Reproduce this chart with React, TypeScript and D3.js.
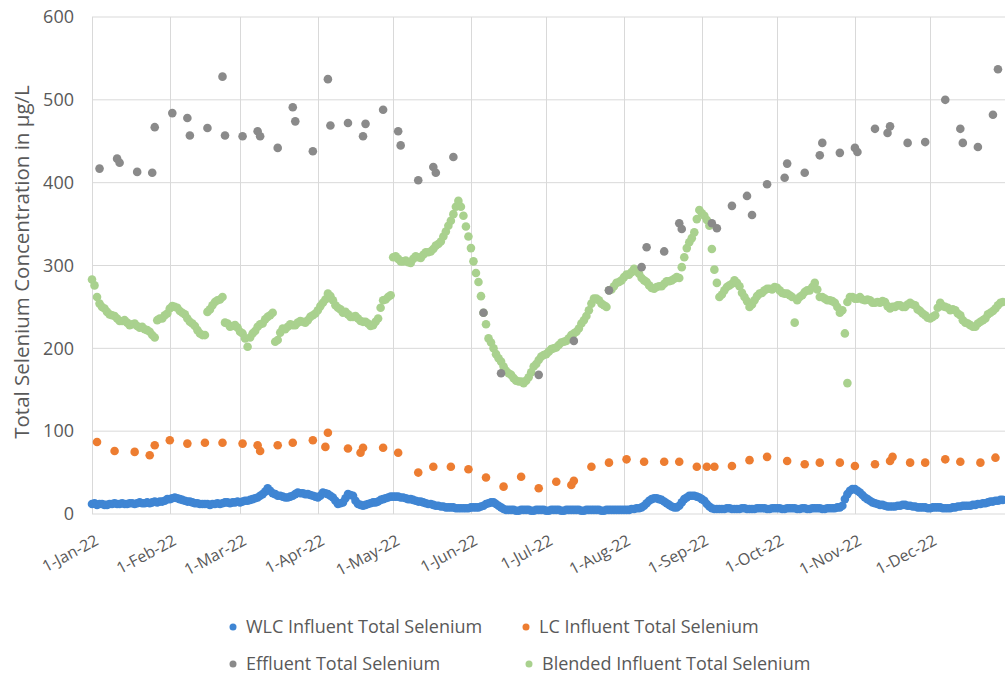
import React from "react";
import * as d3 from "d3";

// ---- DATA ----
const START = "2022-01-01";
// WLC Influent Total Selenium, daily readings from 1-Jan-22 (µg/L)
const wlcValues = [
  12, 13, 11, 12, 12, 11, 11, 12, 12, 13,
  12, 12, 13, 12, 12, 13, 13, 12, 13, 14,
  13, 13, 14, 13, 14, 15, 14, 15, 15, 16,
  18, 18, 19, 20, 19, 18, 17, 16, 15, 15,
  14, 13, 13, 12, 12, 12, 12, 11, 12, 12,
  13, 12, 13, 14, 14, 13, 14, 14, 15, 14,
  15, 16, 16, 17, 18, 19, 20, 22, 24, 27,
  31, 28, 25, 24, 22, 22, 21, 20, 20, 21,
  22, 24, 26, 25, 25, 24, 24, 23, 22, 21,
  20, 22, 26, 25, 24, 22, 20, 16, 12, 13,
  14, 19, 24, 23, 22, 16, 12, 11, 10, 11,
  12, 13, 14, 14, 15, 17, 18, 19, 20, 21,
  21, 21, 21, 20, 20, 19, 18, 18, 17, 16,
  15, 15, 14, 13, 12, 12, 11, 10, 10, 9,
  9, 8, 8, 8, 8, 7, 7, 7, 7, 7,
  7, 8, 8, 8, 8, 9, 10, 12, 13, 14,
  14, 12, 10, 8, 6, 5, 5, 5, 5, 4,
  4, 5, 5, 5, 5, 4, 4, 5, 5, 5,
  5, 4, 4, 5, 5, 5, 5, 4, 4, 5,
  5, 5, 5, 5, 5, 4, 4, 5, 5, 5,
  5, 5, 5, 4, 4, 5, 5, 5, 5, 5,
  5, 5, 5, 5, 5, 6, 6, 7, 7, 8,
  10, 13, 16, 18, 19, 19, 18, 17, 15, 13,
  11, 9, 8, 8, 10, 14, 18, 20, 22, 22,
  22, 21, 20, 18, 16, 12, 9, 7, 6, 6,
  6, 6, 6, 7, 7, 6, 6, 6, 6, 7,
  7, 6, 6, 6, 6, 7, 7, 7, 7, 6,
  6, 7, 7, 7, 7, 6, 6, 7, 7, 7,
  7, 6, 6, 7, 7, 6, 6, 7, 7, 7,
  7, 6, 6, 7, 7, 7, 7, 8, 8, 10,
  18, 24, 28, 30, 30, 28, 26, 23, 20, 18,
  16, 14, 13, 12, 11, 11, 10, 9, 9, 9,
  9, 10, 10, 11, 11, 10, 10, 9, 9, 8,
  8, 8, 8, 7, 7, 8, 8, 8, 8, 7,
  7, 7, 7, 8, 8, 9, 9, 10, 10, 10,
  10, 11, 11, 12, 12, 13, 13, 14, 15, 15,
  16, 16, 17, 17,
];
// Blended Influent Total Selenium, daily readings from 1-Jan-22
const blendedValues = [
  283, 276, 262, 254, 250, 248, 244, 241, 240, 239,
  236, 233, 233, 234, 231, 228, 229, 230, 227, 225,
  226, 223, 222, 220, 216, 213, 234, 236, 236, 240,
  242, 248, 251, 250, 249, 245, 243, 241, 236, 232,
  230, 227, 222, 218, 216, 216, 244, 247, 252, 256,
  258, 259, 262, 231, 230, 226, 227, 228, 225, 220,
  218, 212, 202, 213, 218, 221, 226, 229, 230, 235,
  238, 240, 243, 208, 210, 219, 224, 223, 226, 229,
  228, 228, 231, 233, 232, 231, 234, 238, 240, 242,
  246, 251, 255, 259, 266, 263, 258, 252, 249, 247,
  243, 244, 241, 238, 238, 239, 236, 233, 232, 232,
  230, 227, 228, 232, 236, 249, 258, 259, 262, 264,
  310, 311, 308, 305, 305, 306, 304, 303, 308, 311,
  310, 309, 313, 316, 316, 317, 320, 324, 326, 329,
  335, 341, 348, 354, 362, 371, 378, 371, 360, 347,
  335, 321, 305, 291, 280, 263, 243, 229, 212, 207,
  200, 193, 188, 184, 178, 173, 170, 168, 164, 161,
  160, 160, 158, 161, 165, 171, 178, 181, 186, 190,
  192, 193, 196, 199, 200, 201, 204, 207, 208, 209,
  212, 216, 218, 220, 224, 230, 234, 239, 246, 254,
  260, 260, 258, 254, 252, 250, 270, 271, 275, 279,
  280, 282, 286, 289, 289, 292, 296, 294, 290, 285,
  282, 280, 276, 273, 272, 274, 275, 275, 278, 281,
  281, 282, 284, 286, 285, 298, 310, 321, 328, 333,
  340, 356, 367, 363, 360, 355, 348, 320, 295, 279,
  262, 265, 270, 274, 276, 278, 282, 279, 275, 267,
  262, 257, 250, 253, 258, 263, 266, 267, 270, 272,
  272, 271, 274, 273, 270, 267, 266, 266, 264, 262,
  231, 258, 262, 264, 268, 270, 270, 274, 279, 271,
  262, 262, 260, 258, 258, 257, 255, 250, 243, 246,
  218, 256, 262, 262, 260, 260, 262, 259, 258, 259,
  258, 255, 255, 256, 255, 257, 256, 251, 248, 250,
  250, 252, 252, 250, 250, 253, 255, 253, 252, 247,
  245, 242, 240, 237, 236, 238, 240, 249, 255, 251,
  250, 249, 246, 247, 246, 242, 240, 234, 231, 230,
  228, 226, 226, 230, 232, 234, 236, 241, 243, 245,
  248, 252, 255, 256,
];
const blendedExtraDays = [301];
const blendedExtraValues = [158];

// LC Influent Total Selenium (day of year, value)
const lcDays = [
  2, 9, 17, 23, 25, 31, 38, 45, 52, 60, 66, 67, 74, 80, 88, 94, 93, 102, 108, 107,
  116, 122, 130, 136, 143, 150, 157, 164, 171, 178, 185, 191, 192, 199, 206, 213, 220, 228, 234, 241,
  245, 248, 255, 262, 269, 277, 284, 290, 298, 304, 312, 318, 319, 326, 332, 340, 346, 354, 360,
];
const lcValues = [
  87, 76, 75, 71, 83, 89, 85, 86, 86, 85, 83, 76, 83, 86, 89, 98, 81, 79, 80, 74,
  80, 74, 50, 57, 57, 54, 44, 33, 45, 31, 39, 35, 40, 57, 62, 66, 63, 63, 63, 57,
  57, 57, 58, 65, 69, 64, 60, 62, 62, 58, 60, 64, 69, 62, 62, 66, 63, 62, 68,
];

// Effluent Total Selenium (day of year, value)
const effDays = [
  3, 10, 11, 18, 24, 25, 32, 38, 39, 46, 52, 53, 60, 66, 67, 74, 80, 81, 88, 94,
  95, 102, 108, 109, 116, 122, 123, 130, 136, 137, 144, 156, 163, 178, 192, 206, 219, 221, 228, 234,
  235, 247, 249, 255, 261, 263, 269, 276, 277, 284, 290, 291, 298, 304, 305, 312, 318, 317, 325, 332,
  340, 346, 347, 353, 359, 361,
];
const effValues = [
  417, 429, 424, 413, 412, 467, 484, 478, 457, 466, 528, 457, 456, 462, 456, 442, 491, 474, 438, 525,
  469, 472, 456, 471, 488, 462, 445, 403, 419, 412, 431, 243, 170, 168, 209, 270, 298, 322, 317, 351,
  344, 351, 345, 372, 384, 361, 398, 406, 423, 412, 433, 448, 436, 442, 437, 465, 468, 460, 448, 449,
  500, 465, 448, 443, 482, 537,
];

const yTicks = [0, 100, 200, 300, 400, 500, 600];
const monthTicks = ["2022-01-01", "2022-02-01", "2022-03-01", "2022-04-01", "2022-05-01", "2022-06-01",
  "2022-07-01", "2022-08-01", "2022-09-01", "2022-10-01", "2022-11-01", "2022-12-01"];

const SERIES = [
  { name: "WLC Influent Total Selenium", color: "#3F85D3" },
  { name: "LC Influent Total Selenium", color: "#ED7D31" },
  { name: "Effluent Total Selenium", color: "#8A8A8A" },
  { name: "Blended Influent Total Selenium", color: "#A9D18E" },
];

const FONT = "'Open Sans', 'Liberation Sans', sans-serif";
const TXT = "#595959";

export default function App() {
  const W = 1005, H = 679;
  const start = new Date(START + "T00:00:00Z");
  const dayDate = (d: number) => d3.utcDay.offset(start, d);
  const x = d3.scaleUtc().domain([start, new Date("2023-01-01T00:00:00Z")]).range([92, 1008]);
  const y = d3.scaleLinear().domain([0, 600]).range([514, 17]);
  const fmt = d3.utcFormat("%-d-%b-%y");
  const r = 4.3;

  const wlc = wlcValues.map((v, i) => ({ d: dayDate(i), v }));
  const blended = blendedValues.map((v, i) => ({ d: dayDate(i), v }))
    .concat(blendedExtraDays.map((dd, i) => ({ d: dayDate(dd), v: blendedExtraValues[i] })));
  const lc = lcDays.map((dd, i) => ({ d: dayDate(dd), v: lcValues[i] }));
  const eff = effDays.map((dd, i) => ({ d: dayDate(dd), v: effValues[i] }));

  const dots = (data: { d: Date; v: number }[], color: string, key: string) =>
    data.map((p, i) => (
      <circle key={key + i} cx={x(p.d)} cy={y(p.v)} r={r} fill={color} />
    ));

  const legend = [
    { s: SERIES[0], lx: 233, ly: 627 },
    { s: SERIES[1], lx: 526, ly: 627 },
    { s: SERIES[2], lx: 233, ly: 664 },
    { s: SERIES[3], lx: 529, ly: 664 },
  ];

  return (
    <div style={{ position: "absolute", left: 0, top: 0 }}>
      <svg width={W} height={H} style={{ display: "block", background: "#fff" }} fontFamily={FONT}>
        {/* gridlines */}
        {yTicks.map((t) => (
          <line key={"gy" + t} x1={92} x2={1005} y1={y(t)} y2={y(t)} stroke="#D9D9D9" strokeWidth={1} />
        ))}
        {monthTicks.map((m) => {
          const xx = Math.round(x(new Date(m + "T00:00:00Z"))) + 0.5;
          return <line key={"gx" + m} x1={xx} x2={xx} y1={y(600)} y2={y(0)} stroke="#D9D9D9" strokeWidth={1} />;
        })}
        {/* y tick labels */}
        {yTicks.map((t) => (
          <text key={"ty" + t} x={74} y={y(t)} dy="0.35em" textAnchor="end" fontSize={18} fill={TXT}>{t}</text>
        ))}
        {/* x tick labels */}
        {monthTicks.map((m) => {
          const dt = new Date(m + "T00:00:00Z");
          const xx = x(dt);
          return (
            <text key={"tx" + m} transform={`translate(${xx + 5},${539}) rotate(-28)`} textAnchor="end"
              dy="0.35em" fontSize={16} fill={TXT}>{fmt(dt)}</text>
          );
        })}
        {/* y axis title */}
        <text transform="translate(22,262) rotate(-90)" textAnchor="middle" fontSize={20.5} fill={TXT} dy="0.35em">
          Total Selenium Concentration in µg/L
        </text>
        {/* series */}
        <g>{dots(wlc, SERIES[0].color, "w")}</g>
        <g>{dots(lc, SERIES[1].color, "l")}</g>
        <g>{dots(blended, SERIES[3].color, "b")}</g>
        <g>{dots(eff, SERIES[2].color, "e")}</g>
        {/* legend */}
        {legend.map((L) => (
          <g key={L.s.name}>
            <circle cx={L.lx} cy={L.ly} r={3.5} fill={L.s.color} />
            <text x={L.lx + 13} y={L.ly} dy="0.35em" fontSize={18} fill={TXT}>{L.s.name}</text>
          </g>
        ))}
      </svg>
    </div>
  );
}
